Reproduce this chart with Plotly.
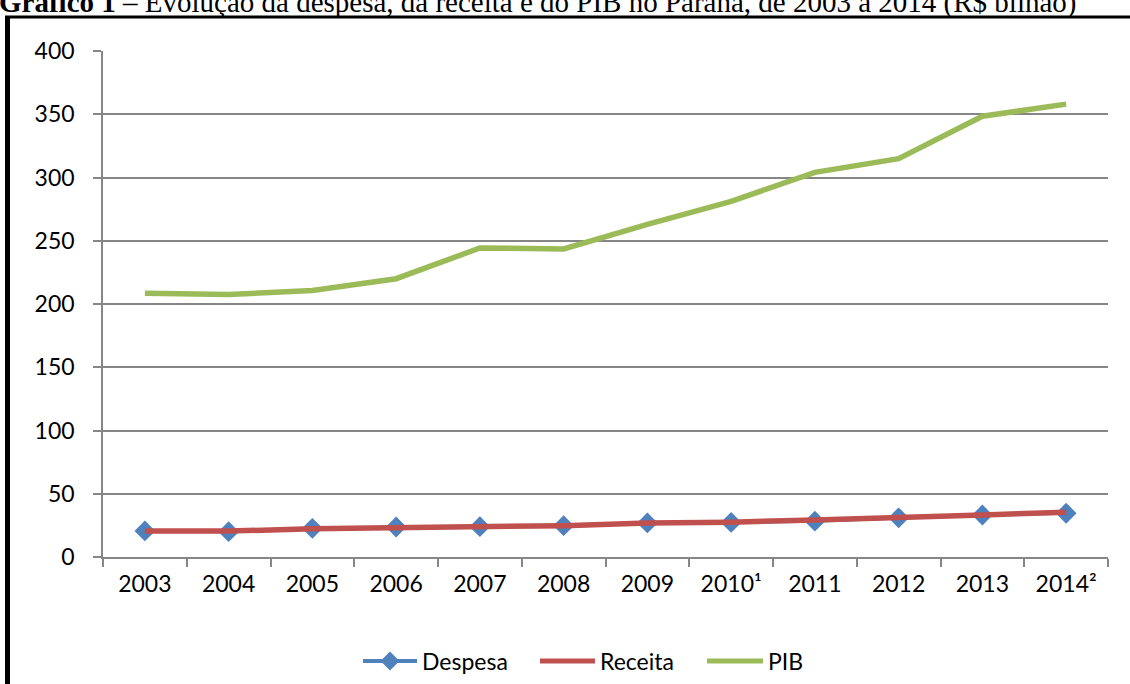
import plotly.graph_objects as go

# Paraná: spending, revenue and GDP, 2003-2014 (R$ billion)
anos = ["2003", "2004", "2005", "2006", "2007", "2008", "2009",
        "2010¹", "2011", "2012", "2013", "2014²"]
despesa = [20.6, 20.0, 22.7, 23.7, 24.0, 24.8, 26.9, 27.3, 28.3, 31.0, 33.2, 34.6]
receita = [20.5, 20.5, 22.3, 23.2, 23.8, 24.8, 26.8, 27.5, 29.3, 30.8, 33.3, 35.3]
pib = [208.5, 207.5, 210.7, 220.0, 244.3, 243.5, 263.0, 281.1, 304.1, 314.9, 348.4, 358.0]

titulo = ("<b>Gráfico 1</b> – Evolução da despesa, da receita e do PIB no Paraná, "
          "de 2003 a 2014 (R$ bilhão)")

AZUL = "#4F81BD"
VERMELHO = "#C0504D"
VERDE = "#9BBB59"
CINZA = "#868686"
FONTE = "Lato, 'Open Sans', sans-serif"

W, H = 1130, 684
ML, MR, MT, MB = 103, 22, 51, 127
PW, PH = W - ML - MR, H - MT - MB


def px(x):
    """Horizontal pixel -> paper coordinate."""
    return (x - ML) / PW


def py(y):
    """Vertical pixel (from top) -> paper coordinate."""
    return (H - MB - y) / PH


fig = go.Figure()
fig.add_trace(go.Scatter(
    x=anos, y=despesa, name="Despesa", mode="lines+markers",
    line=dict(color=AZUL, width=3),
    marker=dict(symbol="diamond", size=16, color=AZUL),
))
fig.add_trace(go.Scatter(
    x=anos, y=receita, name="Receita", mode="lines",
    line=dict(color=VERMELHO, width=5.5),
))
fig.add_trace(go.Scatter(
    x=anos, y=pib, name="PIB", mode="lines",
    line=dict(color=VERDE, width=5.5),
))

# legend row under the axis: long key lines, label to the right of each
legenda = [
    ("Despesa", AZUL, 363, 417, True),
    ("Receita", VERMELHO, 540, 595, False),
    ("PIB", VERDE, 707, 763, False),
]
leg_y = 661

shapes = [
    # chart frame: top and left edges
    dict(type="line", xref="paper", yref="paper",
         x0=px(5), x1=px(1135), y0=py(17), y1=py(17),
         line=dict(color="black", width=3)),
    dict(type="line", xref="paper", yref="paper",
         x0=px(7.5), x1=px(7.5), y0=py(16), y1=py(700),
         line=dict(color="black", width=5)),
]
annotations = [dict(
    text=titulo, xref="paper", yref="paper",
    x=px(-3), xanchor="left", y=py(21), yanchor="bottom",
    showarrow=False,
    font=dict(family="'Liberation Serif', 'Times New Roman', serif", size=29, color="black"),
)]
for nome, cor, x0, x1, losango in legenda:
    shapes.append(dict(type="line", xref="paper", yref="paper",
                       x0=px(x0), x1=px(x1), y0=py(leg_y), y1=py(leg_y),
                       line=dict(color=cor, width=5 if not losango else 4)))
    if losango:
        shapes.append(dict(type="path", xref="paper", yref="paper",
                           xsizemode="pixel", ysizemode="pixel",
                           xanchor=px((x0 + x1) / 2), yanchor=py(leg_y),
                           path="M0,-9.5 L9.5,0 L0,9.5 L-9.5,0 Z",
                           fillcolor=cor, line=dict(width=0)))
    annotations.append(dict(
        text=nome, xref="paper", yref="paper",
        x=px(x1 + 3), xanchor="left", y=py(leg_y), yanchor="middle",
        showarrow=False, font=dict(family=FONTE, size=23, color="black"),
    ))

fig.update_layout(
    width=W, height=H,
    margin=dict(l=ML, r=MR, t=MT, b=MB),
    paper_bgcolor="white", plot_bgcolor="white",
    font=dict(family=FONTE, size=22, color="black"),
    showlegend=False,
    xaxis=dict(
        type="category", tickson="boundaries", range=[-0.5, 11.5],
        showline=True, linecolor=CINZA, linewidth=1.5,
        ticks="outside", ticklen=8, tickcolor=CINZA, tickwidth=1.5,
        showgrid=False, zeroline=False, automargin=False,
        ticklabelstandoff=6,
        tickfont=dict(family=FONTE, size=23),
    ),
    yaxis=dict(
        range=[0, 400], dtick=50,
        showline=True, linecolor=CINZA, linewidth=1.5,
        ticks="outside", ticklen=8, tickcolor=CINZA, tickwidth=1.5,
        showgrid=True, gridcolor=CINZA, gridwidth=1.5,
        zeroline=False, automargin=False, ticklabelstandoff=14,
        tickfont=dict(family=FONTE, size=23),
    ),
    shapes=shapes,
    annotations=annotations,
)

fig.write_html("out.html")
